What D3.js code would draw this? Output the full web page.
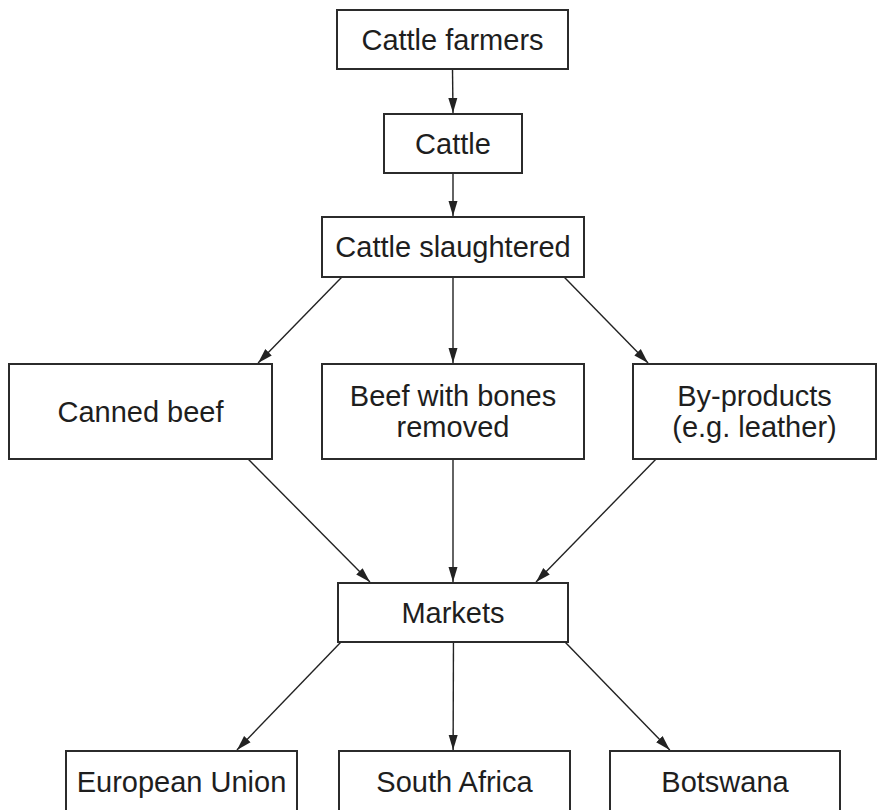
<!DOCTYPE html>
<html>
<head>
<meta charset="utf-8">
<script src="https://cdn.jsdelivr.net/npm/d3@7/dist/d3.min.js"></script>
<style>
  body { margin: 0; background: #fff; }
  .box { fill: #fff; stroke: #2b2b2b; stroke-width: 2; }
  .label { font-family: "Liberation Sans", Arial, sans-serif; font-size: 29px; fill: #1e1e1e; text-anchor: middle; }
  .link { stroke: #222; stroke-width: 1.4; fill: none; }
</style>
</head>
<body>
<div class="chart"></div>
<script>
// node labels (lines split with "|") and the row each one sits in
var nodeLabels = ["Cattle farmers", "Cattle", "Cattle slaughtered",
  "Canned beef", "Beef with bones|removed", "By-products|(e.g. leather)",
  "Markets", "European Union", "South Africa", "Botswana"];
var nodeRows = [0, 1, 2, 3, 3, 3, 4, 5, 5, 5];

// arrows: [from, to]
var linkSources = [0, 1, 2, 2, 2, 3, 4, 5, 6, 6, 6];
var linkTargets = [1, 2, 3, 4, 5, 6, 6, 6, 7, 8, 9];

var svgWidth = 883;
var svgHeight = 810;

// layout --------------------------------------------------------------
var rowIds = d3.range(6);
var rowTop = d3.scaleOrdinal().domain(rowIds).range([10, 114, 217, 364, 583, 751]);
var rowHeight = d3.scaleOrdinal().domain(rowIds).range([59, 59, 60, 95, 59, 62]);

var boxLeft = d3.scaleOrdinal().domain(d3.range(nodeLabels.length))
  .range([337, 384, 322, 9, 322, 633, 338, 66, 339, 610]);
var boxRight = d3.scaleOrdinal().domain(d3.range(nodeLabels.length))
  .range([568, 522, 584, 272, 584, 876, 568, 297, 570, 840]);

// where each arrow leaves the source bottom / hits the target top (0..1 along the edge)
var linkFrom = d3.scaleOrdinal().domain(d3.range(linkSources.length))
  .range([0.5, 0.5, 0.076, 0.5, 0.924, 0.909, 0.5, 0.095, 0.013, 0.502, 0.987]);
var linkTo = d3.scaleOrdinal().domain(d3.range(linkSources.length))
  .range([0.5, 0.5, 0.947, 0.5, 0.062, 0.139, 0.5, 0.861, 0.74, 0.494, 0.26]);

var svg = d3.select(".chart")
  .append("svg")
  .attr("width", svgWidth)
  .attr("height", svgHeight);

svg.append("defs").append("marker")
  .attr("id", "arrow")
  .attr("markerUnits", "userSpaceOnUse")
  .attr("viewBox", "0 -5 15 10")
  .attr("refX", 15)
  .attr("refY", 0)
  .attr("markerWidth", 15)
  .attr("markerHeight", 10)
  .attr("orient", "auto")
  .append("path")
  .attr("d", "M0,-4.5L15,0L0,4.5Z")
  .attr("fill", "#222");

var nodes = nodeLabels.map(function(label, i) {
  var row = nodeRows[i];
  return {
    lines: label.split("|"),
    x0: boxLeft(i),
    x1: boxRight(i),
    y0: rowTop(row),
    y1: rowTop(row) + rowHeight(row)
  };
});

var links = linkSources.map(function(s, i) {
  return { source: nodes[s], target: nodes[linkTargets[i]], from: linkFrom(i), to: linkTo(i) };
});

// arrows
svg.append("g").selectAll("line")
  .data(links)
  .enter()
  .append("line")
  .attr("class", "link")
  .attr("x1", function(d) { return d.source.x0 + d.from * (d.source.x1 - d.source.x0); })
  .attr("y1", function(d) { return d.source.y1; })
  .attr("x2", function(d) { return d.target.x0 + d.to * (d.target.x1 - d.target.x0); })
  .attr("y2", function(d) { return d.target.y0 - 1; })
  .attr("marker-end", "url(#arrow)");

// boxes
var node = svg.append("g").selectAll("g")
  .data(nodes)
  .enter()
  .append("g");

node.append("rect")
  .attr("class", "box")
  .attr("x", function(d) { return d.x0; })
  .attr("y", function(d) { return d.y0; })
  .attr("width", function(d) { return d.x1 - d.x0; })
  .attr("height", function(d) { return d.y1 - d.y0; });

var lineGap = 31;
node.each(function(d) {
  var cx = (d.x0 + d.x1) / 2;
  var cy = (d.y0 + d.y1) / 2;
  var first = cy - (d.lines.length - 1) * lineGap / 2 + 10.4;
  d3.select(this).selectAll("text")
    .data(d.lines)
    .enter()
    .append("text")
    .attr("class", "label")
    .attr("x", cx)
    .attr("y", function(t, k) { return first + k * lineGap; })
    .text(function(t) { return t; });
});
</script>
</body>
</html>
